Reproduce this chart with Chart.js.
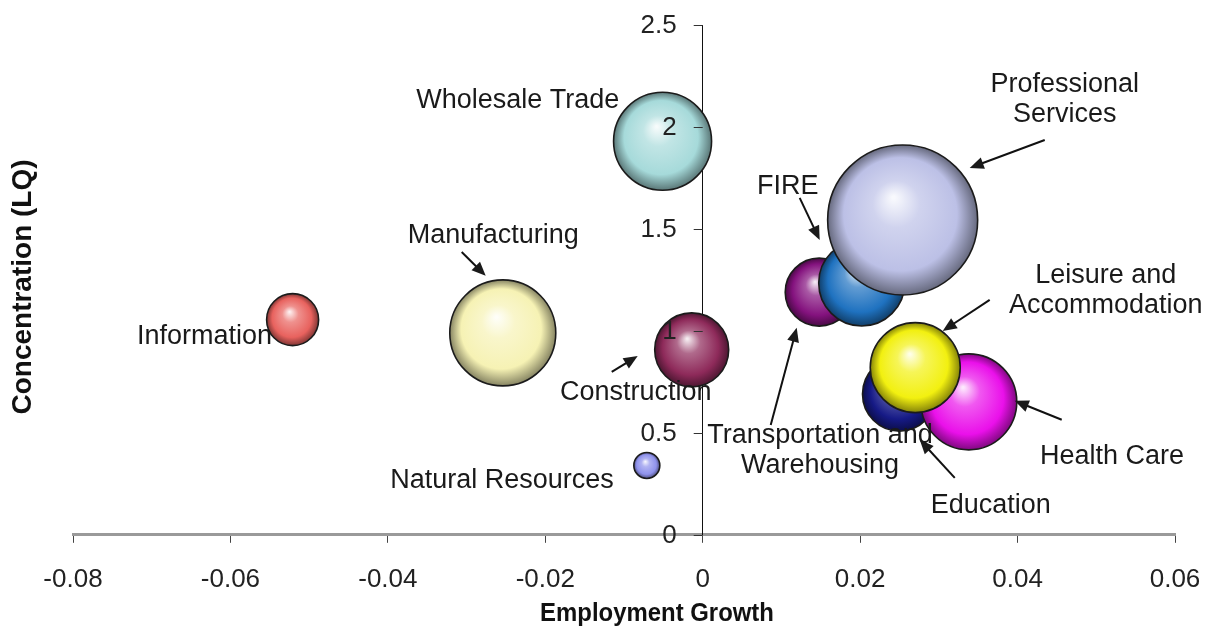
<!DOCTYPE html>
<html>
<head>
<meta charset="utf-8">
<script src="https://cdn.jsdelivr.net/npm/chart.js@4"></script>
<style>
  html, body { margin: 0; padding: 0; background: #fff; }
  canvas { display: block; }
</style>
</head>
<body>
<canvas id="bubble-chart" width="1217" height="628"></canvas>
<script>
// Secteurs (ordre = ordre de dessin, les derniers passent devant)
const sectors = ['Information', 'Manufacturing', 'Wholesale Trade', 'Construction', 'Natural Resources',
    'Transportation and Warehousing', 'FIRE', 'Professional Services', 'Education', 'Health Care',
    'Leisure and Accommodation'];
const growth = [-0.0521, -0.0254, -0.0051, -0.0014, -0.0071, 0.0148, 0.0202, 0.0254, 0.0250, 0.0338, 0.0270];
const concentration = [1.055, 0.990, 1.930, 0.907, 0.340, 1.190, 1.235, 1.544, 0.690, 0.652, 0.820];
const bubbleSize = [26, 53, 49, 37, 13, 34, 43, 75, 37, 48, 45];
const sectorColors = ['#e8625e', '#f6f2b4', '#a6dada', '#8e2a5a', '#8f92ec', '#84127e', '#1f72c0',
    '#bcc0e6', '#161a86', '#ea10ea', '#f2f010'];

const xTicks = [-0.08, -0.06, -0.04, -0.02, 0, 0.02, 0.04, 0.06];
const yTicks = [0, 0.5, 1, 1.5, 2, 2.5];

// Etiquettes des secteurs (centre du bloc, en unités du graphique)
const labelLines = [['Wholesale Trade'], ['Professional', 'Services'], ['FIRE'], ['Manufacturing'],
    ['Information'], ['Construction'], ['Natural Resources'], ['Transportation and', 'Warehousing'],
    ['Leisure and', 'Accommodation'], ['Health Care'], ['Education']];
const labelX = [-0.0235, 0.0460, 0.0108, -0.0266, -0.0633, -0.0085, -0.0255, 0.0149, 0.0512, 0.0520, 0.0366];
const labelY = [2.130, 2.132, 1.706, 1.466, 0.971, 0.696, 0.265, 0.414, 1.196, 0.382, 0.142];

// Flèches : départ -> pointe
const arrowFrom = [[0.04345, 1.936], [0.01232, 1.652], [-0.03062, 1.387], [-0.01156, 0.799],
    [0.00864, 0.539], [0.03646, 1.152], [0.04561, 0.564], [0.03202, 0.279]];
const arrowTo = [[0.03392, 1.799], [0.01486, 1.446], [-0.02757, 1.270], [-0.00826, 0.877],
    [0.01194, 1.015], [0.03049, 1.000], [0.03964, 0.657], [0.02757, 0.466]];

const FONT = '"Liberation Sans", Arial, sans-serif';

function mix(hex, target, t) {
    const n = parseInt(hex.slice(1), 16);
    const c = [(n >> 16) & 255, (n >> 8) & 255, n & 255];
    const out = c.map(v => Math.round(v + (target - v) * t));
    return 'rgb(' + out.join(',') + ')';
}

// Dégradé radial pour l'effet sphère
function sphereFill(context) {
    const i = context.dataIndex;
    const chart = context.chart;
    const base = sectorColors[i];
    if (!chart.scales.x || !chart.scales.y) return base;
    const cx = chart.scales.x.getPixelForValue(growth[i]);
    const cy = chart.scales.y.getPixelForValue(concentration[i]);
    if (!Number.isFinite(cx) || !Number.isFinite(cy)) return base;
    const r = bubbleSize[i];
    const g = chart.ctx.createRadialGradient(cx - r * 0.12, cy - r * 0.3, r * 0.02, cx, cy, r);
    g.addColorStop(0, mix(base, 255, 0.9));
    g.addColorStop(0.3, mix(base, 255, 0.3));
    g.addColorStop(0.75, base);
    g.addColorStop(1, mix(base, 0, 0.45));
    return g;
}

const annotations = {
    id: 'annotations',
    afterDatasetsDraw(chart) {
        const { ctx, scales: { x, y } } = chart;
        const axisX = x.getPixelForValue(0);
        ctx.save();
        // Graduations de l'axe vertical (axe placé en x = 0)
        ctx.fillStyle = '#222';
        ctx.strokeStyle = '#333';
        ctx.lineWidth = 1;
        ctx.font = '26px ' + FONT;
        ctx.textAlign = 'right';
        ctx.textBaseline = 'middle';
        y.ticks.forEach(t => {
            const py = Math.round(y.getPixelForValue(t.value)) + 0.5;
            ctx.beginPath();
            ctx.moveTo(axisX - 9, py);
            ctx.lineTo(axisX, py);
            ctx.stroke();
            ctx.fillText(String(t.value), axisX - 26, py);
        });

        ctx.fillStyle = '#1a1a1a';
        ctx.strokeStyle = '#111';
        ctx.font = '27px ' + FONT;
        ctx.textAlign = 'center';
        labelLines.forEach((lines, i) => {
            const px = x.getPixelForValue(labelX[i]);
            const py = y.getPixelForValue(labelY[i]);
            const lh = 30;
            lines.forEach((t, k) => {
                ctx.fillText(t, px, py + (k - (lines.length - 1) / 2) * lh);
            });
        });
        arrowFrom.forEach((a, i) => {
            const x1 = x.getPixelForValue(a[0]), y1 = y.getPixelForValue(a[1]);
            const x2 = x.getPixelForValue(arrowTo[i][0]), y2 = y.getPixelForValue(arrowTo[i][1]);
            const ang = Math.atan2(y2 - y1, x2 - x1);
            const len = 14, w = 6;
            ctx.lineWidth = 2;
            ctx.beginPath();
            ctx.moveTo(x1, y1);
            ctx.lineTo(x2 - Math.cos(ang) * len * 0.8, y2 - Math.sin(ang) * len * 0.8);
            ctx.stroke();
            ctx.beginPath();
            ctx.moveTo(x2, y2);
            ctx.lineTo(x2 - Math.cos(ang) * len - Math.sin(ang) * w, y2 - Math.sin(ang) * len + Math.cos(ang) * w);
            ctx.lineTo(x2 - Math.cos(ang) * len + Math.sin(ang) * w, y2 - Math.sin(ang) * len - Math.cos(ang) * w);
            ctx.closePath();
            ctx.fill();
        });
        // Titres des axes
        ctx.fillStyle = '#111';
        ctx.save();
        ctx.translate(657, 614);
        ctx.scale(0.92, 1);
        ctx.font = 'bold 26px ' + FONT;
        ctx.fillText('Employment Growth', 0, 0);
        ctx.restore();
        ctx.translate(23, 287);
        ctx.rotate(-Math.PI / 2);
        ctx.font = 'bold 28px ' + FONT;
        ctx.fillText('Concentration (LQ)', 0, 0);
        ctx.restore();
    }
};

const ctx = document.getElementById('bubble-chart');
new Chart(ctx, {
    type: 'bubble',
    data: {
        datasets: [{
            label: 'Secteurs',
            data: sectors.map((s, i) => ({ x: growth[i], y: concentration[i], r: bubbleSize[i] })),
            backgroundColor: sphereFill,
            borderColor: '#1b1b1b',
            borderWidth: 1.6,
            clip: false
        }]
    },
    options: {
        responsive: false,
        animation: false,
        events: [],
        layout: { autoPadding: false, padding: { left: 73, right: 42, top: 25, bottom: 12 } },
        plugins: { legend: { display: false }, tooltip: { enabled: false } },
        scales: {
            x: {
                type: 'linear',
                min: -0.08,
                max: 0.06,
                afterBuildTicks: scale => { scale.ticks = xTicks.map(v => ({ value: v })); },
                afterFit: scale => { scale.paddingLeft = 0; scale.paddingRight = 0; },
                ticks: {
                    color: '#222',
                    padding: 21,
                    font: { size: 26, family: FONT },
                    callback: v => String(Math.round(v * 100) / 100)
                },
                grid: { drawOnChartArea: false, tickLength: 8, tickColor: '#444', tickWidth: 1 },
                border: { color: '#9a9a9a', width: 3 }
            },
            y: {
                type: 'linear',
                position: { x: 0 },
                min: 0,
                max: 2.5,
                z: 1,
                afterBuildTicks: scale => { scale.ticks = yTicks.map(v => ({ value: v })); },
                ticks: { display: false },
                grid: { drawOnChartArea: false, drawTicks: false },
                border: { color: '#111', width: 1 }
            }
        }
    },
    plugins: [annotations]
});
</script>
</body>
</html>
